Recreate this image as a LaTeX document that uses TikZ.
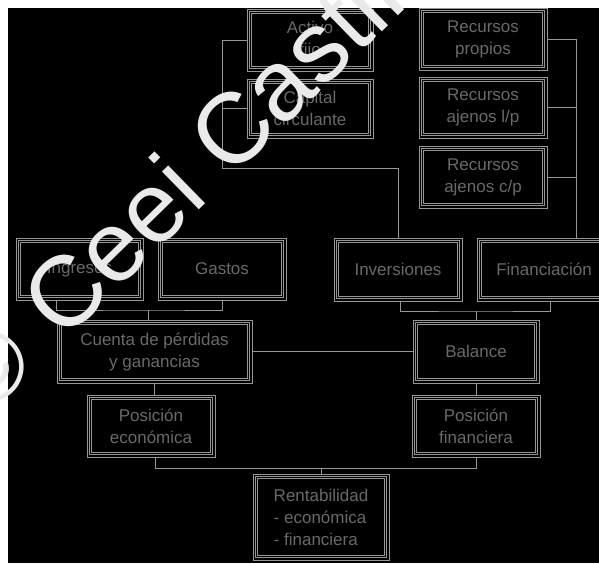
\documentclass[tikz,border=0pt]{standalone}
\usepackage{fontspec}
\setmainfont{Liberation Sans}
\definecolor{lgray}{RGB}{150,150,150}
\definecolor{tgray}{RGB}{105,105,105}
\definecolor{wmgray}{RGB}{234,234,234}
\tikzset{
  box/.style={draw=lgray, line width=0.6pt, text=tgray, align=center,
    font=\fontsize{17}{22}\selectfont, inner sep=0pt,
    path picture={\draw[lgray, line width=0.6pt, double=black, double distance=1.4pt]
      ([shift={(3.3pt,-3.3pt)}]path picture bounding box.north west) rectangle
      ([shift={(-3.3pt,3.3pt)}]path picture bounding box.south east);}},
  conn/.style={draw=lgray, line width=0.7pt},
  wm/.style={text=wmgray, font=\fontsize{100}{100}\selectfont, rotate=44.3,
    anchor=base west, inner sep=0pt},
}
\newcommand\obox[6]{%
  \node[box, minimum width={#4pt-#2pt}, minimum height={#5pt-#3pt}]
    (#1) at ({(#2+#4)/2},{(#3+#5)/2}) {#6};}
\begin{document}
\begin{tikzpicture}[x=1pt,y=-1pt]
\useasboundingbox (0,0) rectangle (599,563);
\fill[white] (0,0) rectangle (599,563);
\fill[black] (8,8) rectangle (599,563);
% boxes
\obox{fijo}{247}{9}{373}{71}{Activo\\fijo}
\obox{circ}{247}{79}{373}{138}{Capital\\circulante}
\obox{propios}{419}{8}{547}{70}{Recursos\\propios}
\obox{lp}{419}{77}{547}{138}{Recursos\\ajenos l/p}
\obox{cp}{419}{146}{547}{208}{Recursos\\ajenos c/p}
\obox{ingresos}{16}{238}{143}{300}{Ingresos}
\obox{gastos}{158}{238}{286}{300}{Gastos}
\obox{inversiones}{334}{238}{462}{301}{Inversiones}
\obox{financiacion}{477}{238}{611}{301}{Financiación}
\obox{cuenta}{57}{320}{252}{383}{Cuenta de pérdidas\\y ganancias}
\obox{balance}{413}{320}{539}{383}{Balance}
\obox{posecon}{87}{395}{215}{457}{Posición\\económica}
\obox{posfin}{412}{395}{540}{457}{Posición\\financiera}
\node[box, align=left, minimum width=136pt, minimum height=86pt] (rent) at (321,517)
  {Rentabilidad\\- económica\\- financiera};
% connectors
\coordinate (lb) at (222,168);
\coordinate (rb) at (576,238);
\draw[conn] (fijo.west) -| (lb) -| (inversiones.north);
\draw[conn] (circ.west) -- (circ.west -| lb);
\draw[conn] (propios.east) -| (rb);
\draw[conn] (lp.east) -- (lp.east -| rb);
\draw[conn] (cp.east) -- (cp.east -| rb);
\coordinate (j1) at (148,310);
\draw[conn] ([xshift=-23.5pt]ingresos.south) |- (j1) -| (gastos.south);
\draw[conn] (j1) -- (j1 |- cuenta.north);
\coordinate (j2) at (476,311);
\draw[conn] ([xshift=2pt]inversiones.south) |- (j2) -| ([xshift=6pt]financiacion.south);
\draw[conn] (j2) -- (balance.north);
\draw[conn] (cuenta.east) -- (balance.west);
\draw[conn] (cuenta.south) -- (cuenta.south |- posecon.north);
\draw[conn] (balance.south) -- (posfin.north);
\coordinate (j3) at (321,468);
\draw[conn] ([xshift=4pt]posecon.south) |- (j3) -| (posfin.south);
\draw[conn] (j3) -- (rent.north);
% watermark
\node[wm] (wm) at (-14,418) {©\hspace{0.06em} Ceei Castilla};
\end{tikzpicture}
\end{document}
